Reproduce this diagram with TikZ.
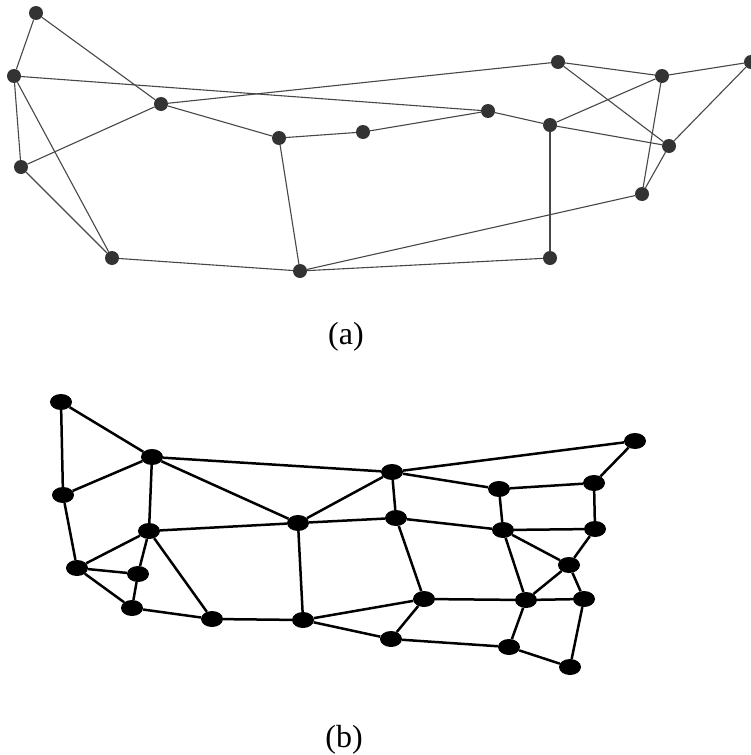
\documentclass[tikz,border=0pt]{standalone}
\usepackage{fontspec}
\setmainfont{Liberation Serif}
\usetikzlibrary{shapes.geometric}

\begin{document}
\begin{tikzpicture}[x=1pt, y=-1pt,
    dot/.style={circle, fill=black!80, inner sep=0pt, minimum size=14pt},
    blob/.style={ellipse, fill=black, inner sep=0pt, minimum width=22pt, minimum height=16pt},
    thin edge/.style={draw=black!72, line width=1.1pt},
    bold edge/.style={draw=black, line width=2.5pt},
    sublabel/.style={inner sep=0pt, font=\fontsize{32}{36}\selectfont}
]
    \useasboundingbox (0,0) rectangle (751,755);

    % --- Graph (a) ---
    \node[dot] (a1)  at ( 36, 13) {};
    \node[dot] (a2)  at ( 14, 76) {};
    \node[dot] (a3)  at (161,104) {};
    \node[dot] (a4)  at ( 21,167) {};
    \node[dot] (a5)  at (112,258) {};
    \node[dot] (a6)  at (279,138) {};
    \node[dot] (a7)  at (363,132) {};
    \node[dot] (a8)  at (300,271) {};
    \node[dot] (a9)  at (488,111) {};
    \node[dot] (a10) at (550,125) {};
    \node[dot] (a11) at (558, 62) {};
    \node[dot] (a12) at (662, 76) {};
    \node[dot] (a13) at (751, 62) {};
    \node[dot] (a14) at (669,146) {};
    \node[dot] (a15) at (642,194) {};
    \node[dot] (a16) at (550,258) {};

    \draw[thin edge] (a1) -- (a2);
    \draw[thin edge] (a1) -- (a3);
    \draw[thin edge] (a2) -- (a4);
    \draw[thin edge] (a2) -- (a5);
    \draw[thin edge] (a2) -- (a9);
    \draw[thin edge] (a3) -- (a4);
    \draw[thin edge] (a3) -- (a6);
    \draw[thin edge] (a3) -- (a11);
    \draw[thin edge] (a4) -- (a5);
    \draw[thin edge] (a5) -- (a8);
    \draw[thin edge] (a6) -- (a7);
    \draw[thin edge] (a6) -- (a8);
    \draw[thin edge] (a7) -- (a9);
    \draw[thin edge] (a8) -- (a15);
    \draw[thin edge] (a8) -- (a16);
    \draw[thin edge] (a9) -- (a10);
    \draw[thin edge] (a10) -- (a16);
    \draw[thin edge] (a10) -- (a12);
    \draw[thin edge] (a10) -- (a14);
    \draw[thin edge] (a11) -- (a12);
    \draw[thin edge] (a11) -- (a14);
    \draw[thin edge] (a12) -- (a13);
    \draw[thin edge] (a12) -- (a15);
    \draw[thin edge] (a13) -- (a14);
    \draw[thin edge] (a14) -- (a15);

    \node[sublabel] (capa) at (346,337) {(a)};

    % --- Graph (b) ---
    \node[blob] (b1)  at ( 61,402) {};
    \node[blob] (b2)  at (152,457) {};
    \node[blob] (b3)  at ( 63,495) {};
    \node[blob] (b4)  at (149,531) {};
    \node[blob] (b5)  at (298,523) {};
    \node[blob] (b6)  at ( 77,568) {};
    \node[blob] (b7)  at (138,574) {};
    \node[blob] (b8)  at (132,608) {};
    \node[blob] (b9)  at (212,619) {};
    \node[blob] (b10) at (303,620) {};
    \node[blob] (b11) at (392,472) {};
    \node[blob] (b12) at (635,441) {};
    \node[blob] (b13) at (499,489) {};
    \node[blob] (b14) at (594,483) {};
    \node[blob] (b15) at (396,518) {};
    \node[blob] (b16) at (503,530) {};
    \node[blob] (b17) at (595,529) {};
    \node[blob] (b18) at (569,565) {};
    \node[blob] (b19) at (424,599) {};
    \node[blob] (b20) at (526,600) {};
    \node[blob] (b21) at (584,599) {};
    \node[blob] (b22) at (391,639) {};
    \node[blob] (b23) at (509,647) {};
    \node[blob] (b24) at (570,667) {};

    \draw[bold edge] (b1) -- (b2);
    \draw[bold edge] (b1) -- (b3);
    \draw[bold edge] (b2) -- (b3);
    \draw[bold edge] (b2) -- (b4);
    \draw[bold edge] (b2) -- (b5);
    \draw[bold edge] (b2) -- (b11);
    \draw[bold edge] (b3) -- (b6);
    \draw[bold edge] (b4) -- (b5);
    \draw[bold edge] (b4) -- (b6);
    \draw[bold edge] (b4) -- (b7);
    \draw[bold edge] (b4) -- (b9);
    \draw[bold edge] (b5) -- (b10);
    \draw[bold edge] (b5) -- (b11);
    \draw[bold edge] (b5) -- (b15);
    \draw[bold edge] (b6) -- (b7);
    \draw[bold edge] (b6) -- (b8);
    \draw[bold edge] (b7) -- (b8);
    \draw[bold edge] (b8) -- (b9);
    \draw[bold edge] (b9) -- (b10);
    \draw[bold edge] (b10) -- (b19);
    \draw[bold edge] (b10) -- (b22);
    \draw[bold edge] (b11) -- (b12);
    \draw[bold edge] (b11) -- (b13);
    \draw[bold edge] (b11) -- (b15);
    \draw[bold edge] (b12) -- (b14);
    \draw[bold edge] (b13) -- (b14);
    \draw[bold edge] (b13) -- (b16);
    \draw[bold edge] (b14) -- (b17);
    \draw[bold edge] (b15) -- (b16);
    \draw[bold edge] (b15) -- (b19);
    \draw[bold edge] (b16) -- (b17);
    \draw[bold edge] (b16) -- (b18);
    \draw[bold edge] (b16) -- (b20);
    \draw[bold edge] (b17) -- (b18);
    \draw[bold edge] (b18) -- (b20);
    \draw[bold edge] (b18) -- (b21);
    \draw[bold edge] (b19) -- (b20);
    \draw[bold edge] (b19) -- (b22);
    \draw[bold edge] (b20) -- (b21);
    \draw[bold edge] (b20) -- (b23);
    \draw[bold edge] (b21) -- (b24);
    \draw[bold edge] (b22) -- (b23);
    \draw[bold edge] (b23) -- (b24);

    \node[sublabel] (capb) at (344,740) {(b)};
\end{tikzpicture}
\end{document}
